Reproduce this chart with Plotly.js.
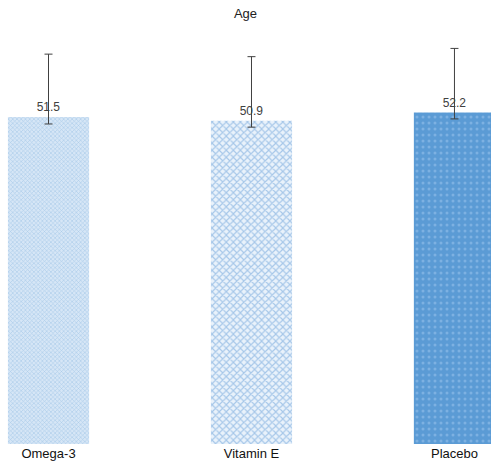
<!DOCTYPE html>
<html>
<head>
<meta charset="utf-8">
<script src="https://cdn.plot.ly/plotly-3.0.1.min.js"></script>
<style>
  html, body { margin: 0; padding: 0; background: #ffffff; }
  #chart { width: 491px; height: 464px; }
</style>
</head>
<body>
<div id="chart"></div>
<script>
// Mean age per study arm, with error bar extents
const groups = ["Omega-3", "Vitamin E", "Placebo"];
const meanAge = [51.5, 50.9, 52.2];
const errUp = [9.9, 10.1, 10.1];
const errDown = [1.1, 1.0, 1.0];

// Per-bar fill styling
const bgColors = ["#d6e6f6", "#e9f2fb", "#5b9bd5"];
const fgColors = ["#a9cae9", "#a6c7e9", "#7db1e2"];
const shapes = ["x", "x", "."];
const sizes = [3, 5, 6];
const solidities = [0.35, 0.4, 0.2];

const labelFont = { family: "Liberation Sans, Arial, sans-serif", size: 12, color: "#404040" };

// One trace per arm so each bar carries its own fill pattern
const traces = groups.map((g, i) => ({
  type: "bar",
  x: [g],
  y: [meanAge[i]],
  width: 0.4,
  text: [meanAge[i].toFixed(1)],
  textposition: "outside",
  cliponaxis: false,
  textfont: labelFont,
  marker: {
    color: bgColors[i],
    line: { width: 0 },
    pattern: {
      shape: shapes[i],
      fgcolor: fgColors[i],
      fgopacity: 1,
      size: sizes[i],
      solidity: solidities[i],
      fillmode: "overlay"
    }
  },
  error_y: {
    type: "data",
    symmetric: false,
    array: [errUp[i]],
    arrayminus: [errDown[i]],
    color: "#404040",
    thickness: 1,
    width: 4
  },
  hoverinfo: "skip"
}));

const layout = {
  width: 491,
  height: 464,
  margin: { l: 0, r: 0, t: 30, b: 20 },
  paper_bgcolor: "#ffffff",
  plot_bgcolor: "#ffffff",
  showlegend: false,
  barmode: "overlay",
  title: {
    text: "Age",
    x: 0.5,
    xanchor: "center",
    y: 0.98,
    yanchor: "top",
    font: { family: "Liberation Sans, Arial, sans-serif", size: 13, color: "#222222" }
  },
  xaxis: {
    type: "category",
    categoryorder: "array",
    categoryarray: groups,
    range: [-0.239, 2.18],
    showgrid: false,
    zeroline: false,
    showline: false,
    ticks: "",
    tickfont: { family: "Liberation Sans, Arial, sans-serif", size: 13, color: "#111111" },
    fixedrange: true
  },
  yaxis: {
    range: [0, 65.2],
    visible: false,
    showgrid: false,
    zeroline: false,
    fixedrange: true
  }
};

Plotly.newPlot("chart", traces, layout, { staticPlot: true, displayModeBar: false });
</script>
</body>
</html>
